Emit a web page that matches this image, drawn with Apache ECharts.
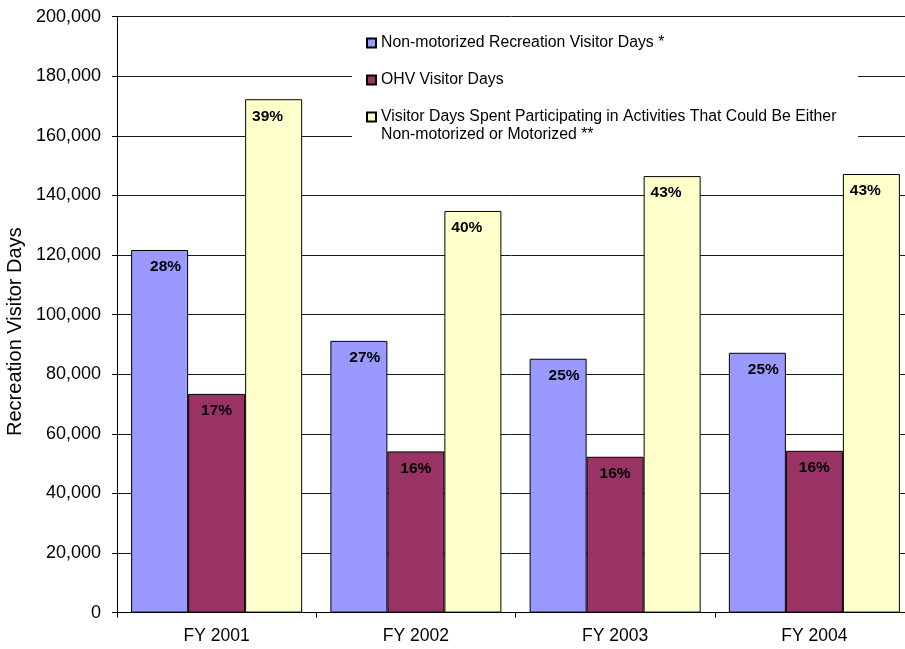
<!DOCTYPE html>
<html>
<head>
<meta charset="utf-8">
<title>Recreation Visitor Days</title>
<script src="https://cdn.jsdelivr.net/npm/echarts@6/dist/echarts.min.js"></script>
<style>
  html, body { margin: 0; padding: 0; background: #ffffff; }
  #chart { width: 905px; height: 649px; }
</style>
</head>
<body>
<div id="chart"></div>
<script>
// Fiscal years on the category axis
const categories = ['FY 2001', 'FY 2002', 'FY 2003', 'FY 2004'];

// Series names
const nameNonMotorized = 'Non-motorized Recreation Visitor Days *';
const nameOhv = 'OHV Visitor Days';
const nameEither = 'Visitor Days Spent Participating in Activities That Could Be Either\nNon-motorized or Motorized **';

// Visitor days per fiscal year
const nonMotorizedDays = [121700, 91200, 85200, 87200];
const ohvDays = [73400, 54100, 52300, 54300];
const eitherDays = [172300, 134800, 146500, 147200];

// Share labels printed inside each bar
const nonMotorizedShare = ['28%', '27%', '25%', '25%'];
const ohvShare = ['17%', '16%', '16%', '16%'];
const eitherShare = ['39%', '40%', '43%', '43%'];

// Value axis ticks
const yMin = 0;
const yMax = 200000;
const yStep = 20000;

const FONT = '"Liberation Sans", Arial, sans-serif';

function barLabel(shares, dx) {
  return {
    show: true,
    position: 'insideTop',
    distance: 9,
    offset: [dx, 0],
    color: '#000000',
    fontFamily: FONT,
    fontWeight: 'bold',
    fontSize: 15.5,
    formatter: p => shares[p.dataIndex]
  };
}

function legendItem(name, top) {
  return {
    data: [name],
    orient: 'vertical',
    left: 366,
    top: top,
    padding: 0,
    itemWidth: 9,
    itemHeight: 9,
    itemGap: 0,
    icon: 'rect',
    selectedMode: false,
    z: 4,
    textStyle: { fontFamily: FONT, fontSize: 15.8, color: '#000000', lineHeight: 18 },
    // a leading blank line keeps the marker beside the first line of a two-line name
    formatter: n => (n.indexOf('\n') >= 0 ? '\n' + n : n)
  };
}

const chart = echarts.init(document.getElementById('chart'), null, { renderer: 'canvas' });

chart.setOption({
  animation: false,
  backgroundColor: '#ffffff',
  textStyle: { fontFamily: FONT },
  grid: {
    left: 117,
    top: 16.7,
    width: 797,
    bottom: 36.4,
    containLabel: false,
    outerBoundsMode: 'none'
  },
  legend: [
    legendItem(nameNonMotorized, 34),
    legendItem(nameOhv, 71),
    legendItem(nameEither, 90)
  ],
  graphic: [{
    // white panel behind the legend
    type: 'rect',
    left: 352,
    top: 25,
    shape: { width: 506, height: 126 },
    style: { fill: '#ffffff' },
    z: 3,
    silent: true
  }],
  xAxis: {
    type: 'category',
    data: categories,
    boundaryGap: true,
    axisLine: { show: true, lineStyle: { color: '#000000', width: 1 } },
    axisTick: { show: true, length: 5, lineStyle: { color: '#000000' } },
    axisLabel: { color: '#000000', fontFamily: FONT, fontSize: 17.5, margin: 15 },
    splitLine: { show: false }
  },
  yAxis: {
    type: 'value',
    min: yMin,
    max: yMax,
    interval: yStep,
    name: 'Recreation Visitor Days',
    nameLocation: 'middle',
    nameGap: 86,
    nameTextStyle: {
      color: '#000000',
      fontFamily: FONT,
      fontSize: 20,
      padding: [0, 34, 0, 0]
    },
    axisLine: { show: true, lineStyle: { color: '#000000', width: 1 } },
    axisTick: { show: true, length: 5, lineStyle: { color: '#000000' } },
    axisLabel: {
      color: '#000000',
      fontFamily: FONT,
      fontSize: 18,
      margin: 16,
      formatter: v => v.toLocaleString('en-US')
    },
    splitLine: { show: true, lineStyle: { color: '#1a1a1a', width: 1 } }
  },
  series: [
    {
      name: nameNonMotorized,
      type: 'bar',
      data: nonMotorizedDays,
      barWidth: 57,
      barGap: '0%',
      itemStyle: { color: '#9999FF', borderColor: '#000000', borderWidth: 1 },
      label: barLabel(nonMotorizedShare, 6)
    },
    {
      name: nameOhv,
      type: 'bar',
      data: ohvDays,
      barWidth: 57,
      barGap: '0%',
      itemStyle: { color: '#993366', borderColor: '#000000', borderWidth: 1 },
      label: barLabel(ohvShare, 0)
    },
    {
      name: nameEither,
      type: 'bar',
      data: eitherDays,
      barWidth: 57,
      barGap: '0%',
      itemStyle: { color: '#FFFFCC', borderColor: '#000000', borderWidth: 1 },
      label: barLabel(eitherShare, -6)
    }
  ]
});
</script>
</body>
</html>
